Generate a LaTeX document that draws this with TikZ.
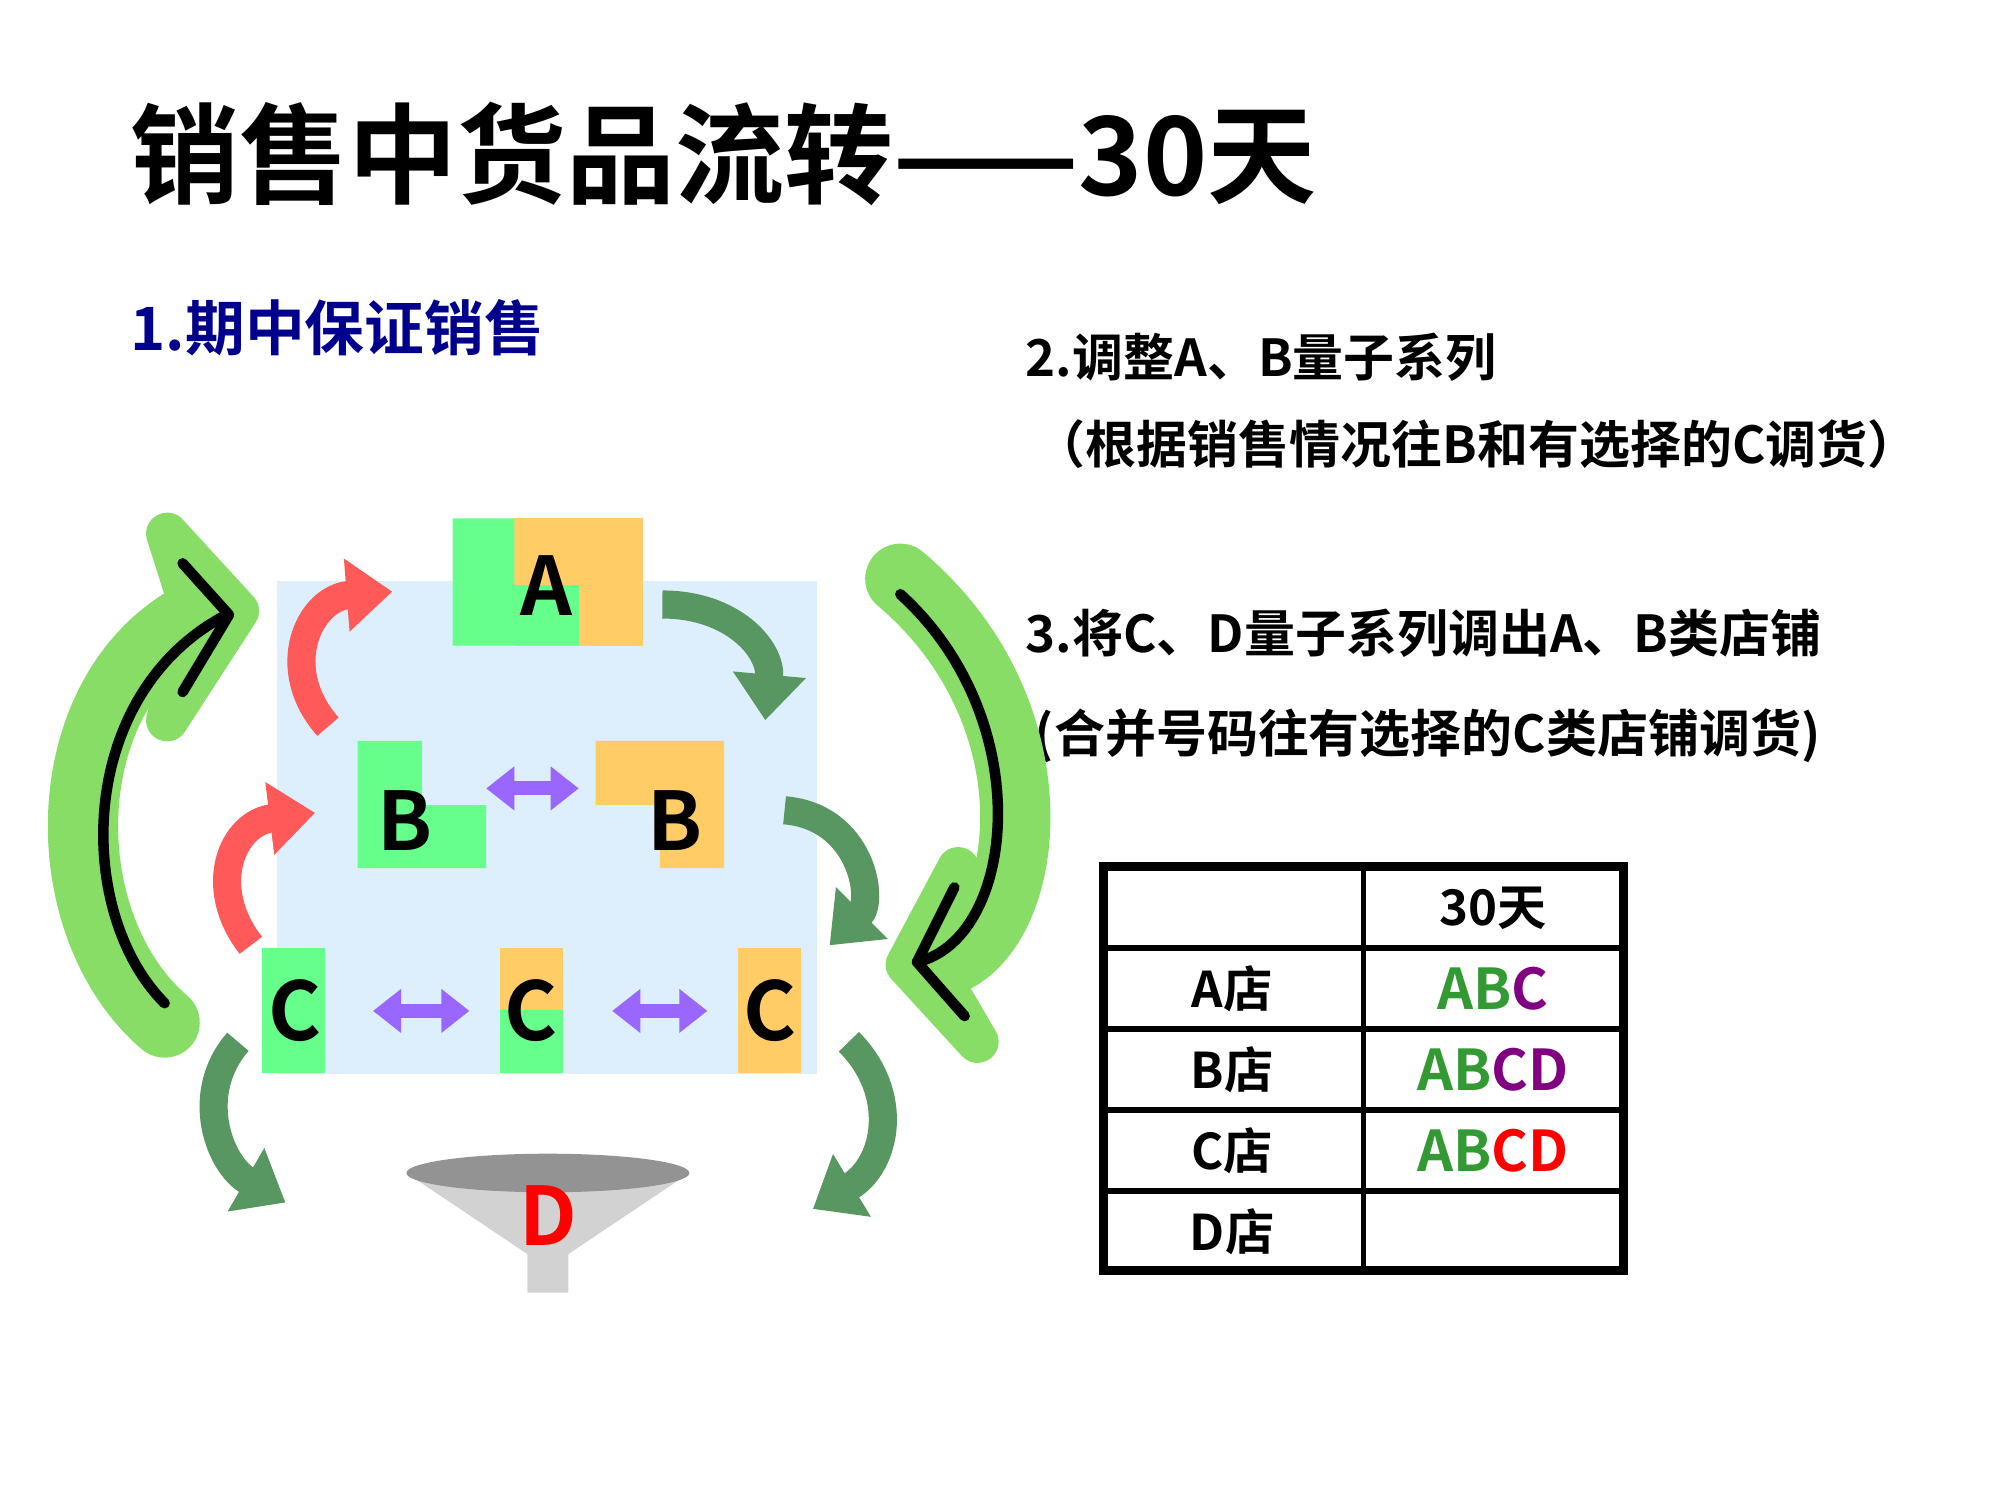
\documentclass[tikz,border=0pt]{standalone}
\usepackage{fontspec}
\newfontfamily\cjk{Noto Sans CJK SC Bold}
\usetikzlibrary{arrows.meta}
\definecolor{blkgreen}{HTML}{66FF8C}
\definecolor{blkorange}{HTML}{FFCC66}
\definecolor{panel}{HTML}{DDEEFC}
\definecolor{swap}{HTML}{9966FF}
\definecolor{txtgreen}{HTML}{339933}
\definecolor{txtpurple}{HTML}{800080}
\definecolor{darkgrn}{HTML}{2E7D3A}
\definecolor{biggrn}{HTML}{88DD66}
\tikzset{
  lbl/.style={font=\cjk\fontsize{23}{28}\selectfont},
  note/.style={font=\cjk\fontsize{14.5}{18}\selectfont,anchor=west},
  swaparrow/.style={{Triangle[width=12pt,length=8pt]}-{Triangle[width=12pt,length=8pt]},draw=swap,line width=4pt},
  redarrow/.style={-{Triangle[width=20pt,length=13pt]},draw=red!65,line width=8pt},
  grnarrow/.style={-{Triangle[width=20pt,length=13pt]},draw=darkgrn!80,line width=8pt},
  bigline/.style={biggrn,line width=20pt,line cap=round},
  bighead/.style={fill=biggrn,draw=biggrn,line width=12pt,line join=round},
  cell/.style={font=\cjk\fontsize{14}{16}\selectfont}
}
\begin{document}
\begin{tikzpicture}[x=0.01286cm,y=-0.01286cm]
  \useasboundingbox (0,0) rectangle (1555,1166);
  % headings
  \node[font=\cjk\fontsize{31}{38}\selectfont,anchor=west] (title) at (92,120) {销售中货品流转——30天};
  \node[note,text=blue!55!black,font=\cjk\fontsize{17}{22}\selectfont] (step1) at (92,255) {1.期中保证销售};
  \node[note] (step2) at (788,278) {2.调整A、B量子系列};
  \node[note] (step2b) at (795,345) {（根据销售情况往B和有选择的C调货）};
  \node[note] (step3) at (788,492) {3.将C、D量子系列调出A、B类店铺};
  \node[note] (step3b) at (795,572) {(合并号码往有选择的C类店铺调货)};

  % panel and blocks
  \fill[panel] (215,452) rectangle (635,835);
  \fill[blkorange] (400,403) rectangle (500,502);
  \fill[blkgreen] (352,403) rectangle (400,502) (400,455) rectangle (450,502);
  \fill[blkgreen] (278,576) rectangle (328,675) (328,626) rectangle (378,675);
  \fill[blkorange] (463,576) rectangle (563,626) (513,626) rectangle (563,675);
  \fill[blkgreen] (204,737) rectangle (253,834);
  \fill[blkorange] (389,737) rectangle (438,785);
  \fill[blkgreen] (389,785) rectangle (438,834);
  \fill[blkorange] (574,737) rectangle (623,834);
  \node[lbl] (a) at (425,455) {A};
  \node[lbl] (b1) at (315,638) {B};
  \node[lbl] (b2) at (525,638) {B};
  \node[lbl] (c1) at (229,786) {C};
  \node[lbl] (c2) at (413,786) {C};
  \node[lbl] (c3) at (599,786) {C};
  \coordinate (s1) at (378,613); \coordinate (e1) at (450,613);
  \coordinate (s2) at (290,786); \coordinate (e2) at (365,786);
  \coordinate (s3) at (476,786); \coordinate (e3) at (550,786);
  \draw[swaparrow] (s1) -- (e1);
  \draw[swaparrow] (s2) -- (e2);
  \draw[swaparrow] (s3) -- (e3);

  % funnel
  \fill[gray!35] (316,912) -- (536,912) -- (442,975) -- (442,1005) -- (410,1005) -- (410,975) -- cycle;
  \fill[gray!85] (426,912) ellipse [x radius=110,y radius=15];
  \node[lbl,text=red] (d) at (426,945) {D};

  % small curved arrows
  \draw[redarrow] (255,565) .. controls (215,520) and (240,465) .. (305,460);
  \draw[redarrow] (195,735) .. controls (160,690) and (180,640) .. (245,632);
  \draw[grnarrow] (515,470) .. controls (570,470) and (600,505) .. (595,560);
  \draw[grnarrow] (610,630) .. controls (670,635) and (680,700) .. (645,735);
  \draw[grnarrow] (185,810) .. controls (150,850) and (170,905) .. (222,935);
  \draw[grnarrow] (660,810) .. controls (700,850) and (690,905) .. (632,940);

  % large side arrows
  \draw[bigline] (128,795) .. controls (40,720) and (40,540) .. (150,480);
  \draw[bighead] (130,415) -- (185,475) -- (130,560) -- (150,478) -- cycle;
  \draw[line width=3pt,line cap=round] (128,780) .. controls (58,710) and (58,540) .. (176,478);
  \draw[line width=3pt,line cap=round,line join=round] (142,438) -- (178,478) -- (142,538);
  \draw[bigline] (700,450) .. controls (830,560) and (800,740) .. (725,750);
  \draw[bighead] (745,675) -- (705,750) -- (760,810) -- (725,750) -- cycle;
  \draw[line width=3pt,line cap=round] (700,462) .. controls (808,560) and (790,730) .. (713,748);
  \draw[line width=3pt,line cap=round,line join=round] (742,690) -- (713,748) -- (750,790);

  % table
  \draw[line width=2.5pt] (858,674) rectangle (1262,988);
  \foreach \yy in {737,800,863,926} \draw[line width=1.5pt] (858,\yy) -- (1262,\yy);
  \draw[line width=1.5pt] (1060,674) -- (1060,988);
  \node[cell] (hd) at (1161,706) {30天};
  \node[cell] (ra) at (958,769) {A店};
  \node[cell] (rb) at (958,832) {B店};
  \node[cell] (rc) at (958,895) {C店};
  \node[cell] (rd) at (958,958) {D店};
  \node[cell,font=\cjk\fontsize{16}{20}\selectfont] (va) at (1161,769) {\textcolor{txtgreen}{AB}\textcolor{txtpurple}{C}};
  \node[cell,font=\cjk\fontsize{16}{20}\selectfont] (vb) at (1161,832) {\textcolor{txtgreen}{AB}\textcolor{txtpurple}{CD}};
  \node[cell,font=\cjk\fontsize{16}{20}\selectfont] (vc) at (1161,895) {\textcolor{txtgreen}{AB}\textcolor{red}{CD}};
\end{tikzpicture}
\end{document}
